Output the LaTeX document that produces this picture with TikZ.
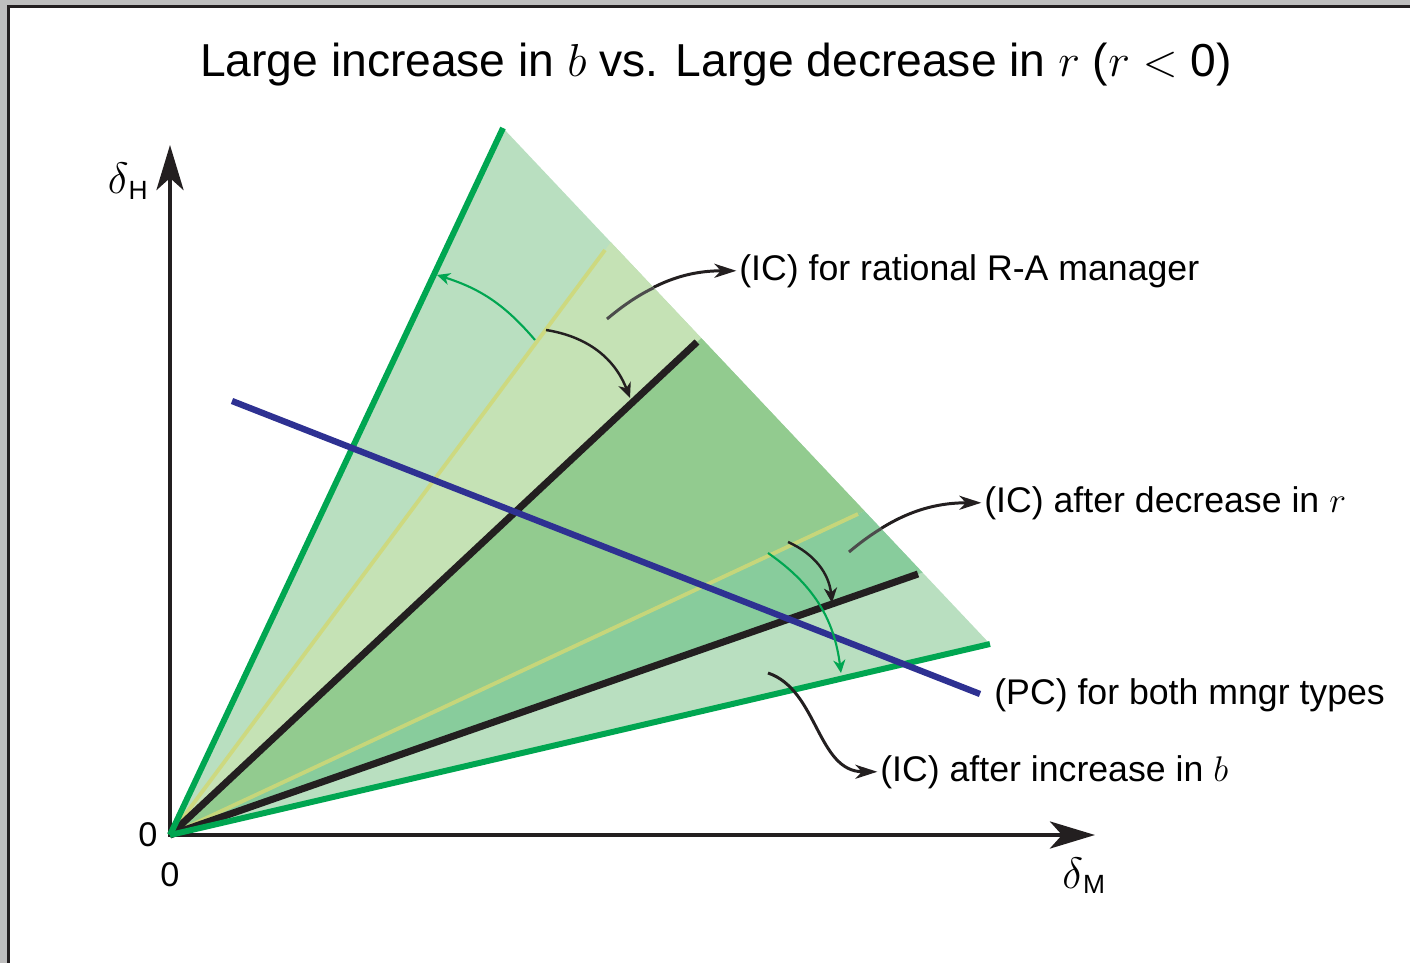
\RequirePackage{fix-cm}
\documentclass[tikz,border=0pt]{standalone}
\usepackage{amsmath}
\usepackage{fontspec}
\setmainfont{Liberation Sans}
\usepackage{tikz}
\usetikzlibrary{arrows.meta}
\usepackage{xcolor}
\definecolor{ink}{RGB}{35,31,32}
\definecolor{gline}{RGB}{0,166,81}
\definecolor{pcblue}{RGB}{46,49,146}
\definecolor{wout}{RGB}{185,223,192}
\definecolor{wold}{RGB}{197,226,181}
\definecolor{wboth}{RGB}{146,203,143}
\definecolor{wnew}{RGB}{136,204,156}
\definecolor{faint}{RGB}{208,216,118}
\definecolor{winedge}{RGB}{190,190,190}
\tikzset{
  axis/.style={ink,line width=2.8pt,
    {Stealth[length=9mm,width=5.4mm,inset=2.4mm]}-{Stealth[length=9mm,width=5.4mm,inset=2.4mm]}},
  bound/.style={gline,line width=3.4pt},
  icline/.style={ink,line width=4pt},
  oldic/.style={faint,line width=2.2pt,opacity=0.85},
  pcline/.style={pcblue,line width=3.6pt},
  shiftg/.style={gline,line width=1.2pt,-{Stealth[length=2.6mm,width=2.4mm,inset=0.8mm]}},
  shiftk/.style={ink,line width=1.4pt,-{Stealth[length=3mm,width=2.6mm,inset=0.9mm]}},
  pointer/.style={ink,line width=1.7pt,-{Stealth[length=4.4mm,width=2.8mm,inset=1.3mm]},
    shorten >=1.5pt},
  lbl/.style={font=\fontsize{20.3}{24}\selectfont,anchor=base west,inner sep=0pt},
}

\begin{document}
\begin{tikzpicture}[x=0.02cm,y=-0.02cm]
  \useasboundingbox (0,0) rectangle (1410,963);
  % window edge
  \fill[winedge] (0,0) rectangle (1410,5);
  \fill[winedge] (0,0) rectangle (7,963);
  \draw[ink,line width=1.4pt] (8.5,963) |- (1410,6.5);

  \node[font=\fontsize{26.3}{31}\selectfont,anchor=base] (title) at (716,77)
    {Large increase in $b$ vs. Large decrease in $r$ ($r<\text{0}$)};

  % axes
  \coordinate (O) at (170,835);
  \coordinate (ytip) at (170,145);
  \coordinate (xtip) at (1095,835);
  \draw[axis] (ytip) -- (O) -- (xtip);
  \node[font=\fontsize{19.5}{23}\selectfont,anchor=base] (zy) at (148,846) {0};
  \node[font=\fontsize{19.5}{23}\selectfont,anchor=base] (zx) at (170,886) {0};
  \node[anchor=base east,inner sep=0pt] (dH) at (148,194)
    {\fontsize{25}{28}\selectfont$\delta$\raisebox{-3pt}{\fontsize{15}{17}\selectfont H}};
  \node[anchor=base west,inner sep=0pt] (dM) at (1062,888)
    {\fontsize{25}{28}\selectfont$\delta$\raisebox{-3pt}{\fontsize{15}{17}\selectfont M}};

  % rays
  \coordinate (A) at (503,128);
  \coordinate (B) at (990,644);
  \coordinate (fu) at (605,250);
  \coordinate (fl) at (858,514);
  \coordinate (bu) at (697,342);
  \coordinate (bl) at (918,574);
  \coordinate (fuE) at (intersection of O--fu and A--B);
  \coordinate (flE) at (intersection of O--fl and A--B);
  \coordinate (buE) at (intersection of O--bu and A--B);
  \coordinate (blE) at (intersection of O--bl and A--B);

  % labels
  \node[lbl] (icR) at (739,280) {(IC) for rational R-A manager};
  \node[lbl] (icr) at (984,512) {(IC) after decrease in $r$};
  \node[lbl] (pc) at (994,704) {(PC) for both mngr types};
  \node[lbl] (icb) at (880,781) {(IC) after increase in $b$};

  \coordinate (tR) at (607,319);
  \coordinate (tr) at (849,552);
  \coordinate (tb) at (768,673);
  \draw[pointer] (tR) to[out=40,in=180] (icR.west);
  \draw[pointer] (tr) to[out=40,in=180] (icr.west);

  % wedges
  \fill[wout] (O) -- (A) -- (B) -- cycle;
  \fill[wold] (O) -- (fuE) -- (buE) -- cycle;
  \fill[wboth] (O) -- (buE) -- (flE) -- cycle;
  \fill[wnew] (O) -- (flE) -- (blE) -- cycle;
  \begin{scope}
    \clip (O) -- (A) -- (B) -- cycle;
    \draw[black!70,line width=1.7pt] (tR) to[out=40,in=180] (icR.west);
    \draw[black!70,line width=1.7pt] (tr) to[out=40,in=180] (icr.west);
  \end{scope}

  \draw[oldic] (O) -- (fu);
  \draw[oldic] (O) -- (fl);
  \draw[icline] (O) -- (bu);
  \draw[icline] (O) -- (bl);
  \draw[bound] (O) -- (A);
  \draw[bound] (O) -- (B);

  \coordinate (pc1) at (232,401);
  \coordinate (pc2) at (980,694);
  \draw[pcline] (pc1) -- (pc2);

  % shifts of the (IC) lines
  \coordinate (ug0) at (535,340);
  \coordinate (ug1) at (437,275);
  \coordinate (uk0) at (546,330);
  \coordinate (uk1) at (630,398);
  \coordinate (lk0) at (788,542);
  \coordinate (lk1) at (832,603);
  \coordinate (lg0) at (768,553);
  \coordinate (lg1) at (841,673);
  \draw[shiftg] (ug0) to[bend right=16] (ug1);
  \draw[shiftk] (uk0) to[bend left=30] (uk1);
  \draw[shiftk] (lk0) to[bend left=30] (lk1);
  \draw[shiftg] (lg0) to[bend left=24] (lg1);

  \draw[pointer] (tb) .. controls +(50,17) and +(-63,0) .. (icb.west);
\end{tikzpicture}
\end{document}
